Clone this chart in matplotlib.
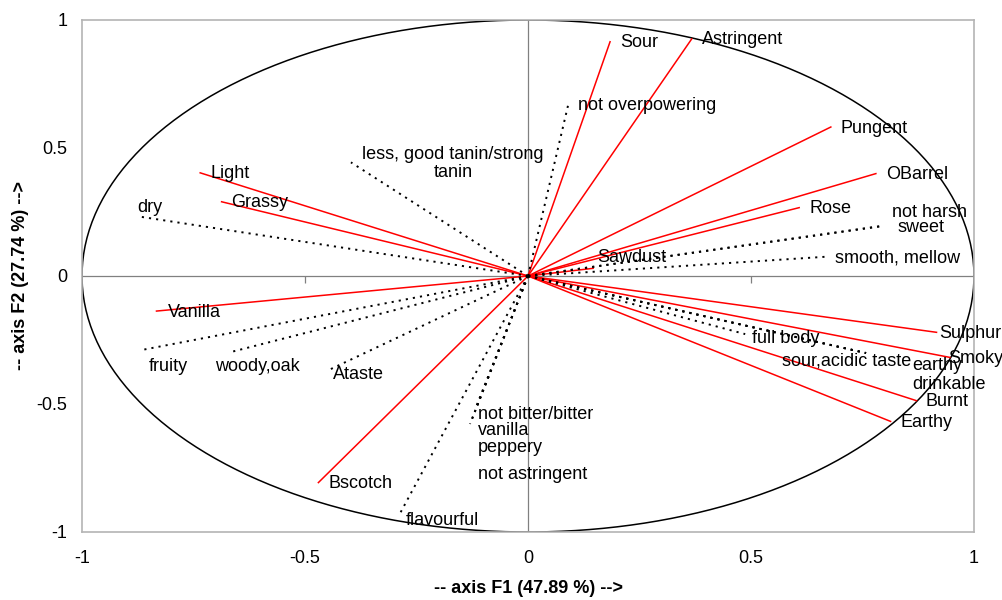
import numpy as np
import matplotlib
matplotlib.use("Agg")
import matplotlib.pyplot as plt

plt.rcParams["font.family"] = ["Liberation Sans", "DejaVu Sans"]
plt.rcParams["font.size"] = 13
plt.rcParams["axes.unicode_minus"] = False

# active variables (solid red vectors): F1, F2 coordinates
active_names = ["Light", "Grassy", "Vanilla", "Bscotch", "Sour", "Astringent",
                "Pungent", "OBarrel", "Rose", "Sawdust", "Sulphur", "Smoky",
                "Burnt", "Earthy"]
active_f1 = [-0.735, -0.687, -0.833, -0.470, 0.184, 0.367,
             0.679, 0.780, 0.608, 0.146, 0.916, 0.946,
             0.871, 0.813]
active_f2 = [0.403, 0.290, -0.137, -0.807, 0.915, 0.926,
             0.582, 0.400, 0.267, 0.030, -0.220, -0.318,
             -0.487, -0.568]

# supplementary variables (dotted black vectors)
supp_names = ["dry", "less, good tanin/strong\ntanin", "not overpowering",
              "not harsh", "sweet", "smooth, mellow", "fruity", "woody,oak",
              "Ataste", "not bitter/bitter", "vanilla", "peppery",
              "not astringent", "flavourful", "full body", "sour,acidic taste",
              "earthy", "drinkable"]
supp_f1 = [-0.871, -0.397, 0.090, 0.793, 0.793, 0.666, -0.866, -0.664,
           -0.444, -0.115, -0.130, -0.115, -0.128, -0.289, 0.487, 0.758,
           0.758, 0.758]
supp_f2 = [0.232, 0.444, 0.668, 0.195, 0.195, 0.075, -0.289, -0.296,
           -0.365, -0.510, -0.578, -0.505, -0.570, -0.934, -0.227, -0.301,
           -0.301, -0.301]

ticks = [-1, -0.5, 0, 0.5, 1]
tick_labels = ["-1", "-0.5", "0", "0.5", "1"]

# label offsets in pixels (default: just right of the arrow tip)
default_offset = (10, -1)
label_offsets = {
    "dry": (-2, 9),
    "Vanilla": (11, -1),
    "fruity": (7, -17),
    "woody,oak": (-17, -15),
    "Ataste": (3, -5),
    "flavourful": (7, -5),
    "not bitter/bitter": (1, -8),
    "vanilla": (8, -7),
    "peppery": (1, -42),
    "not astringent": (7, -53),
    "not harsh": (10, 14),
    "sweet": (16, -1),
    "Sawdust": (4, 11),
    "full body": (7, -4),
    "Sulphur": (3, -1),
    "Smoky": (-2, -1),
    "Burnt": (9, -1),
    "sour,acidic taste": (-84, -8),
    "earthy": (46, -12),
    "drinkable": (46, -31),
}

fig = plt.figure(figsize=(10.02, 6.0), dpi=100)
ax = fig.add_axes([82 / 1002, 1 - 532 / 600, 892 / 1002, 512 / 600])
ax.set_xlim(-1, 1)
ax.set_ylim(-1, 1)

for s in ax.spines.values():
    s.set_color("#b4b4b4")
    s.set_linewidth(1.2)

ax.axhline(0, color="#808080", lw=0.9, zorder=1)
ax.axvline(0, color="#808080", lw=0.9, zorder=1)
ax.plot([-0.5, 0.5], [0, 0], ls="none", marker=3, ms=5, mew=0.9,
        color="#808080", zorder=1)

# correlation circle
theta = np.linspace(0, 2 * np.pi, 400)
ax.plot(np.cos(theta), np.sin(theta), color="black", lw=1.1, zorder=2)

for name, x, y in zip(active_names, active_f1, active_f2):
    ax.plot([0, x], [0, y], color="red", lw=1.1, zorder=3)

for name, x, y in zip(supp_names, supp_f1, supp_f2):
    ax.plot([0, x], [0, y], color="black", lw=1.4,
            linestyle=(0, (1.1, 2.6)), zorder=3)


def put_label(name, x, y):
    dx, dy = label_offsets.get(name, default_offset)
    if "\n" in name:
        ax.annotate(name, (x, y), xytext=(102, -1), textcoords="offset pixels",
                    ha="center", va="center", linespacing=1.05, zorder=4)
    else:
        ax.annotate(name, (x, y), xytext=(dx, dy), textcoords="offset pixels",
                    ha="left", va="center", zorder=4, annotation_clip=False)


for name, x, y in zip(active_names, active_f1, active_f2):
    put_label(name, x, y)
for name, x, y in zip(supp_names, supp_f1, supp_f2):
    put_label(name, x, y)

ax.set_xticks(ticks)
ax.set_xticklabels(tick_labels)
ax.set_yticks(ticks)
ax.set_yticklabels(tick_labels)
ax.tick_params(axis="x", length=0, pad=13)
ax.tick_params(axis="y", length=0, pad=10.5)

ax.set_xlabel("-- axis F1 (47.89 %) -->", fontweight="bold")
ax.xaxis.set_label_coords(0.5, -0.093)
ax.set_ylabel("-- axis F2 (27.74 %) -->", fontweight="bold")
ax.yaxis.set_label_coords(-0.059, 0.5)

fig.savefig("out.png", dpi=100)
